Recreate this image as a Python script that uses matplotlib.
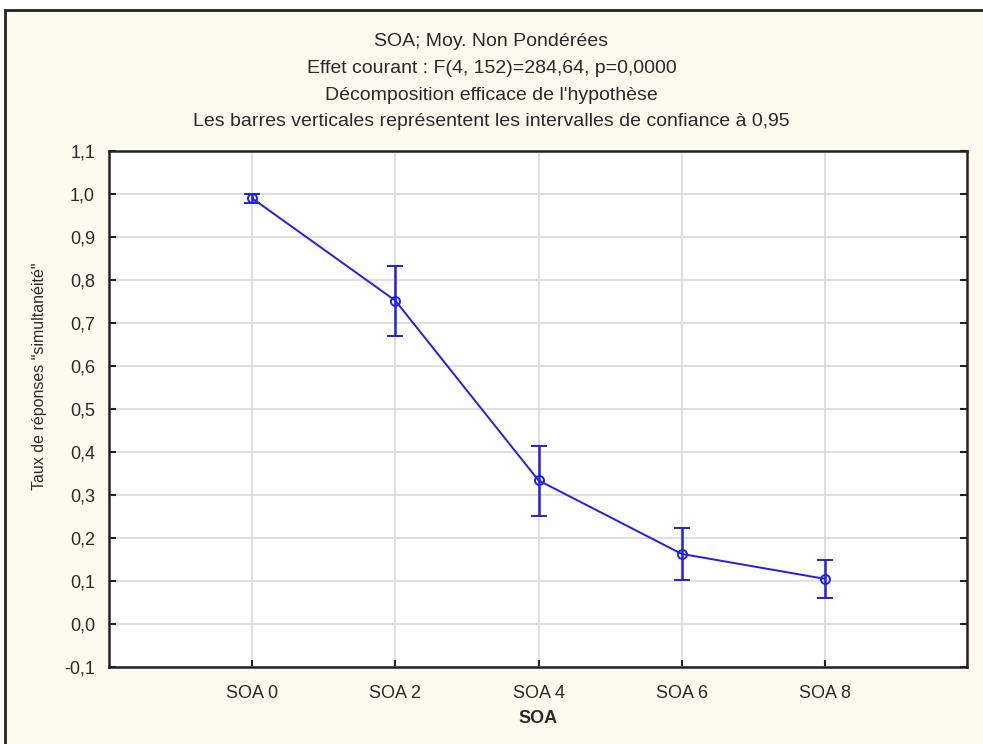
import numpy as np
import matplotlib.pyplot as plt
from matplotlib.patches import Rectangle

plt.rcParams['font.family'] = ['Liberation Sans', 'DejaVu Sans']

categories = ['SOA 0', 'SOA 2', 'SOA 4', 'SOA 6', 'SOA 8']
means = [0.990, 0.752, 0.334, 0.163, 0.105]
ci_low = [0.980, 0.670, 0.251, 0.102, 0.060]
ci_high = [1.000, 0.833, 0.414, 0.223, 0.149]

title_lines = ["SOA; Moy. Non Pondérées",
               "Effet courant : F(4, 152)=284,64, p=0,0000",
               "Décomposition efficace de l'hypothèse",
               "Les barres verticales représentent les intervalles de confiance à 0,95"]

cream = '#fdf9ee'
blue = '#1f1fee'
dark = '#2a2a2a'

fig = plt.figure(figsize=(9.83, 7.44), dpi=100)
fig.patch.set_facecolor('white')
# panel background, border visible on top and left only
fig.patches.append(Rectangle((5/983, -0.05), 1.1, 1 - 10/744 + 0.05,
                             transform=fig.transFigure, facecolor=cream,
                             edgecolor='#222222', linewidth=2, zorder=-10))

ax = fig.add_axes([109/983, 77/744, (967-109)/983, (667-151)/744])
ax.set_facecolor('white')

x = np.arange(len(categories))
m = np.array(means)
yerr = [m - np.array(ci_low), np.array(ci_high) - m]
ax.errorbar(x, m, yerr=yerr, color=blue, lw=1.4, marker='o', ms=6.5,
            mfc='none', mec=blue, mew=1.4, capsize=5.5, capthick=1.8,
            elinewidth=1.8, zorder=3)

ax.set_xlim(-1.0, 4.993)
ax.set_ylim(-0.1, 1.1)
yt = np.round(np.arange(-0.1, 1.11, 0.1), 1)
ax.set_yticks(yt)
ax.set_yticklabels([f"{v:.1f}".replace('.', ',') for v in yt], fontsize=13, color=dark)
ax.set_xticks(x)
ax.set_xticklabels(categories, fontsize=13, color=dark)

ax.grid(True, color='#d9d9d9', lw=1.2)
ax.set_axisbelow(True)
for s in ax.spines.values():
    s.set_color('#222222')
    s.set_linewidth(1.8)
ax.tick_params(axis='y', direction='in', length=5, width=1.5, colors='#222222',
               labelcolor=dark, pad=10, right=True)
ax.tick_params(axis='x', direction='in', length=5, width=1.5, colors='#222222',
               labelcolor=dark, pad=13)

ax.set_xlabel('SOA', fontsize=13, fontweight='bold', color=dark)
ax.xaxis.set_label_coords(0.5, -0.083)
ax.set_ylabel('Taux de réponses "simultanéité"', fontsize=11.5, color=dark)
ax.yaxis.set_label_coords(-0.072, 0.564)

for i, line in enumerate(title_lines):
    fig.text(0.5, 1 - (42 + i*26.5)/744, line, ha='center', va='center',
             fontsize=14, color=dark)

fig.savefig('out.png', dpi=100, facecolor=fig.get_facecolor())
